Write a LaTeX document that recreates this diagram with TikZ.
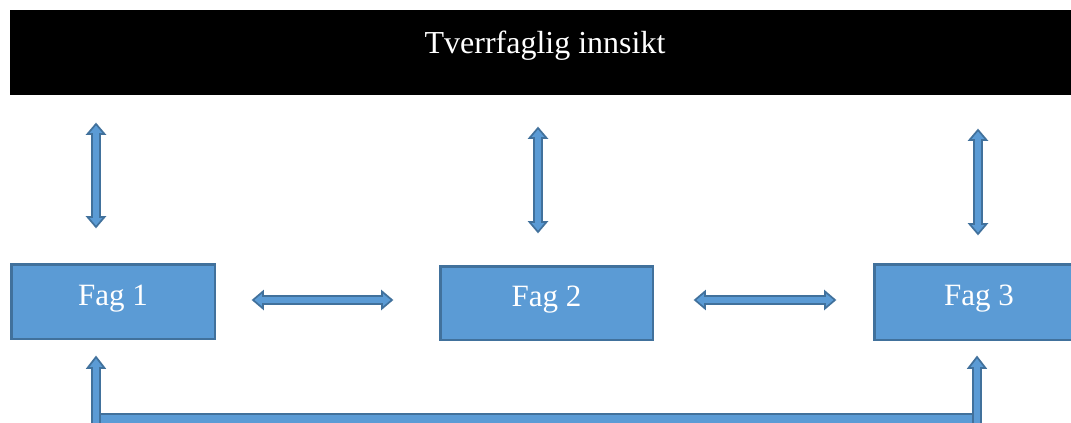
\documentclass[tikz,border=0pt]{standalone}
\usepackage{fontspec}
\setmainfont{Liberation Serif}
\definecolor{boxfill}{HTML}{5B9BD5}
\definecolor{boxline}{HTML}{41719C}
\tikzset{
  fagbox/.style={draw=boxline, fill=boxfill, line width=2.5pt, anchor=north west,
    inner sep=0pt, outer sep=0pt, text=white, font=\fontsize{31}{36}\selectfont,
    text height=20pt, text depth=13pt},
  blockarrow/.style={draw=boxline, fill=boxfill, line width=1.7pt, line join=miter},
  titlebar/.style={fill=black, anchor=north west, inner sep=0pt}
}
% vertical double block arrow: x, ytop, ybottom
\newcommand\vdarrow[3]{%
  \draw[blockarrow] (#1-4,#2+10) -- (#1-8.5,#2+10) -- (#1,#2) -- (#1+8.5,#2+10) -- (#1+4,#2+10)
    -- (#1+4,#3-10) -- (#1+8.5,#3-10) -- (#1,#3) -- (#1-8.5,#3-10) -- (#1-4,#3-10) -- cycle;}
% horizontal double block arrow: y, xleft, xright
\newcommand\hdarrow[3]{%
  \draw[blockarrow] (#2+10,#1-4) -- (#2+10,#1-8.5) -- (#2,#1) -- (#2+10,#1+8.5) -- (#2+10,#1+4)
    -- (#3-10,#1+4) -- (#3-10,#1+8.5) -- (#3,#1) -- (#3-10,#1-8.5) -- (#3-10,#1-4) -- cycle;}
\begin{document}
\begin{tikzpicture}[x=1pt,y=-1pt]
\useasboundingbox (0,0) rectangle (1071,423);
\fill[white] (0,0) rectangle (1071,423);
\clip (0,0) rectangle (1071,423);
% title bar
\node[titlebar, minimum width=1075pt, minimum height=85pt] (bar) at (10,10) {};
\node[anchor=base, text=white, font=\fontsize{32}{38}\selectfont] (title) at (545,53) {Tverrfaglig innsikt};
% boxes
\node[fagbox, minimum width=203.5pt, minimum height=74.5pt] (fag1) at (11.25,264.25) {Fag 1};
\node[fagbox, minimum width=212.5pt, minimum height=73.5pt] (fag2) at (440.25,266.25) {Fag 2};
\node[fagbox, minimum width=209.5pt, minimum height=75.5pt] (fag3) at (874.25,264.25) {Fag 3};
% vertical double arrows
\vdarrow{96}{124}{227}
\vdarrow{538}{128}{232}
\vdarrow{978}{130}{234}
% horizontal double arrows
\hdarrow{300}{253}{392}
\hdarrow{300}{695}{835}
% bottom connector
\draw[blockarrow] (99,414) rectangle (974,445);
\draw[blockarrow] (92,445) -- (92,368) -- (87.5,368) -- (96,357) -- (104.5,368) -- (100,368) -- (100,445);
\draw[blockarrow] (973,445) -- (973,368) -- (968.5,368) -- (977,357) -- (985.5,368) -- (981,368) -- (981,445);
\end{tikzpicture}
\end{document}
